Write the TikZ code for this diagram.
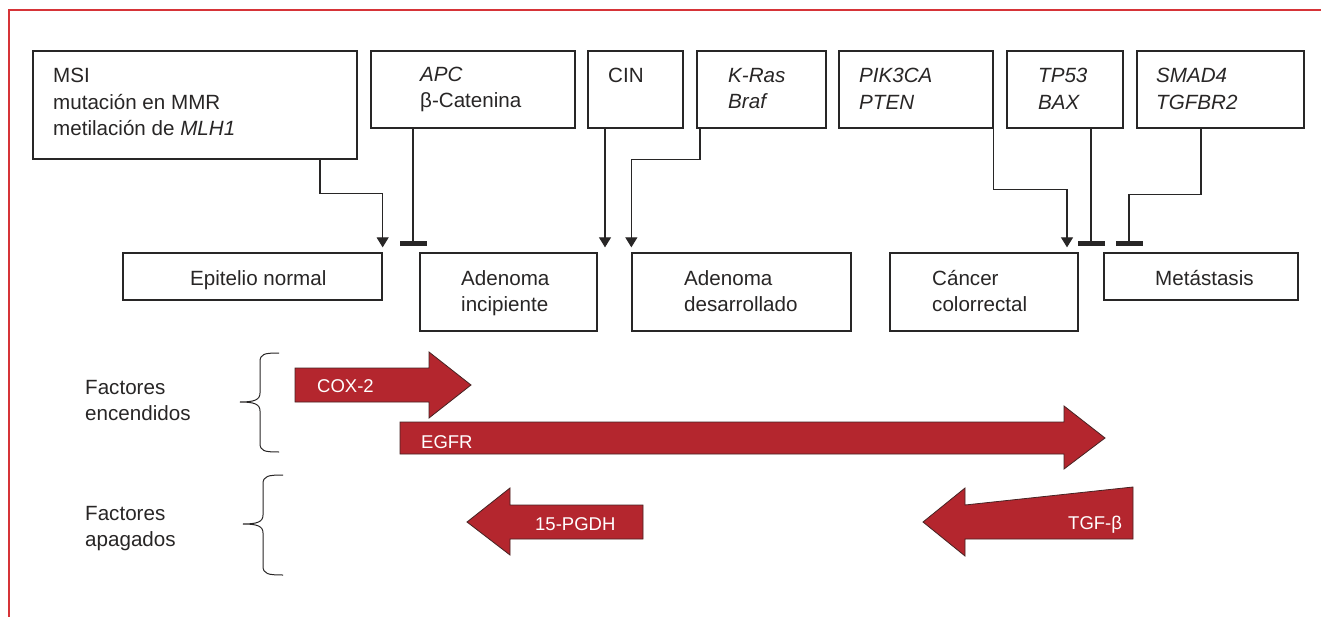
\documentclass[tikz,border=0pt]{standalone}
\usepackage{fontspec}
\setmainfont{Liberation Sans}
\usetikzlibrary{arrows.meta}
\definecolor{framered}{RGB}{214,52,56}
\definecolor{ink}{RGB}{40,38,38}
\definecolor{factred}{RGB}{180,38,46}
\definecolor{factedge}{RGB}{70,35,35}
\tikzset{
  box/.style={draw=ink, line width=1.3pt, inner sep=0pt},
  word/.style={anchor=base west, inner sep=0pt, text=ink, font=\fontsize{20.6}{24}\selectfont},
  gene/.style={word, font=\fontsize{20.6}{24}\selectfont\itshape},
  act/.style={draw=ink, line width=1.1pt, -{Triangle[length=10pt,width=12pt]}, shorten >=5pt},
  inh/.style={draw=ink, line width=1.1pt, -{Rectangle[length=5pt,width=27pt]}, shorten >=6pt},
  factor/.style={fill=factred, draw=factedge, line width=0.8pt, line join=miter},
  factlabel/.style={anchor=base west, inner sep=0pt, text=white, font=\fontsize{18.5}{22}\selectfont},
  curly/.style={draw=ink, line width=1pt},
  redframe/.style={draw=framered, line width=1.2pt}
}
\begin{document}
\begin{tikzpicture}[x=1pt, y=-1pt]
  \fill[white] (0,0) rectangle (1321,617);
  \useasboundingbox (0,0) rectangle (1321,617);

  % outer frame
  \draw[redframe] (9,617) -- (9,10) -- (1321,10);

  % genetic alterations (top row)
  \node[box, minimum width=324pt, minimum height=108pt] (msi)  at (195,105)   {};
  \node[box, minimum width=204pt, minimum height=77pt]  (apc)  at (473,89.5)  {};
  \node[box, minimum width=95pt,  minimum height=77pt]  (cin)  at (635.5,89.5){};
  \node[box, minimum width=129pt, minimum height=77pt]  (kras) at (761.5,89.5){};
  \node[box, minimum width=154pt, minimum height=77pt]  (pik)  at (916,89.5)  {};
  \node[box, minimum width=116pt, minimum height=77pt]  (tp)   at (1065,89.5) {};
  \node[box, minimum width=167pt, minimum height=77pt]  (smad) at (1220.5,89.5){};

  \node[word] (msiA) at (53,83)  {MSI};
  \node[word] (msiB) at (53,110) {mutación en MMR};
  \node[word] (msiC) at (53,136) {metilación de \textit{MLH1}};
  \node[gene] (apcA) at (420,82) {APC};
  \node[word] (apcB) at (420,108) {β-Catenina};
  \node[word] (cinA) at (608,83) {CIN};
  \node[gene] (krA)  at (728,83) {K-Ras};
  \node[gene] (krB)  at (728,109) {Braf};
  \node[gene] (pikA) at (859,83) {PIK3CA};
  \node[gene] (pikB) at (859,110) {PTEN};
  \node[gene] (tpA)  at (1038,83) {TP53};
  \node[gene] (tpB)  at (1038,110) {BAX};
  \node[gene] (smA)  at (1156,83) {SMAD4};
  \node[gene] (smB)  at (1156,110) {TGFBR2};

  % stages of progression (middle row)
  \node[box, minimum width=259pt, minimum height=47pt] (epi)  at (252.5,276.5) {};
  \node[box, minimum width=177pt, minimum height=78pt] (ainc) at (508.5,292)   {};
  \node[box, minimum width=219pt, minimum height=78pt] (ades) at (741.5,292)   {};
  \node[box, minimum width=188pt, minimum height=78pt] (ccr)  at (984,292)     {};
  \node[box, minimum width=194pt, minimum height=47pt] (meta) at (1201,276.5)  {};

  \node[word] (epiA)  at (190,286) {Epitelio normal};
  \node[word] (aincA) at (461,286) {Adenoma};
  \node[word] (aincB) at (461,312) {incipiente};
  \node[word] (adesA) at (684,286) {Adenoma};
  \node[word] (adesB) at (684,312) {desarrollado};
  \node[word] (ccrA)  at (932,286) {Cáncer};
  \node[word] (ccrB)  at (932,312) {colorrectal};
  \node[word] (metaA) at (1155,286) {Metástasis};

  % connector columns
  \coordinate (c1) at (320,0);
  \coordinate (c2) at (413,0);
  \coordinate (c3) at (605,0);
  \coordinate (c4) at (700,0);
  \coordinate (c5) at (1067,0);
  \coordinate (c6) at (1091,0);
  \coordinate (c7) at (1201,0);
  \coordinate (c8) at (1129,0);

  \draw[act] (msi.south -| c1) -- ++(0,34) -| (epi.north east);
  \draw[inh] (apc.south -| c2) -- (ainc.north -| c2);
  \draw[act] (cin.south -| c3) -- (ainc.north -| c3);
  \draw[act] (kras.south -| c4) -- ++(0,31) -| (ades.north west);
  \draw[act] (pik.south east) -- ++(0,61) -| (ccr.north -| c5);
  \draw[inh] (tp.south -| c6) -- (ccr.north -| c6);
  \draw[inh] (smad.south -| c7) -- ++(0,66) -| (meta.north -| c8);

  % factor groups
  \node[word] (onA)  at (85,394) {Factores};
  \node[word] (onB)  at (85,420) {encendidos};
  \node[word] (offA) at (85,520) {Factores};
  \node[word] (offB) at (85,546) {apagados};

  \draw[curly] (279,353) .. controls (264,353) and (260,354) .. (260,362) -- (260,393)
     .. controls (260,400) and (254,402) .. (240,402)
     .. controls (254,402) and (260,404) .. (260,411) -- (260,443)
     .. controls (260,451) and (264,452) .. (279,452);
  \draw[curly] (283,475) .. controls (268,475) and (263,476) .. (263,484) -- (263,515)
     .. controls (263,522) and (257,524) .. (243,524)
     .. controls (257,524) and (263,526) .. (263,533) -- (263,566)
     .. controls (263,574) and (268,575) .. (283,575);

  % block arrows
  \filldraw[factor] (295,368) -- (429,368) -- (429,352) -- (471,385) -- (429,418) -- (429,402) -- (295,402) -- cycle;
  \filldraw[factor] (400,422) -- (1064,422) -- (1064,406) -- (1105,438) -- (1064,469) -- (1064,454) -- (400,454) -- cycle;
  \filldraw[factor] (643,505) -- (510,505) -- (510,488) -- (467,522) -- (510,555) -- (510,539) -- (643,539) -- cycle;
  \filldraw[factor] (1133,487) -- (965,505) -- (965,488) -- (923,522) -- (965,556) -- (965,539) -- (1133,539) -- cycle;

  \node[factlabel] (cox)  at (317,392) {COX-2};
  \node[factlabel] (egfr) at (421,448) {EGFR};
  \node[factlabel] (pgdh) at (535,530) {15-PGDH};
  \node[factlabel] (tgf)  at (1068,529) {TGF-β};
\end{tikzpicture}
\end{document}
